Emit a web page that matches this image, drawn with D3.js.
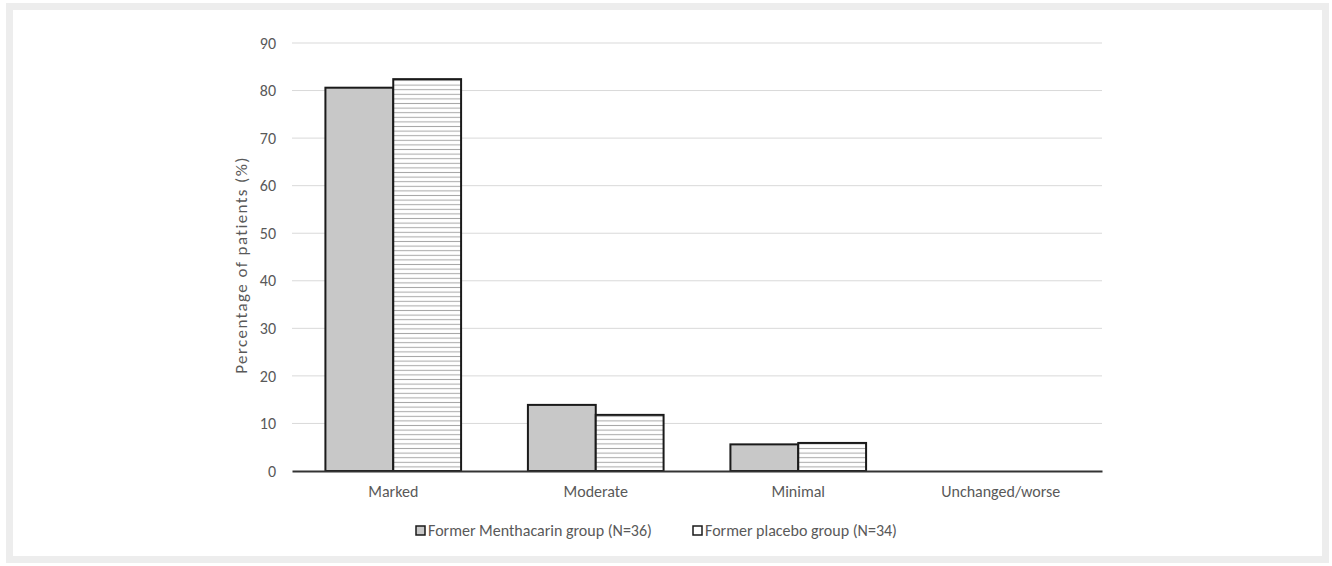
<!DOCTYPE html>
<html><head><meta charset="utf-8">
<script src="https://cdn.jsdelivr.net/npm/d3@7/dist/d3.min.js"></script>
<style>body{margin:0;background:#fff}svg{display:block}text{font-family:Carlito,"Open Sans","Liberation Sans",sans-serif;fill:#595959}</style>
</head><body><svg id="c" width="1332" height="566"></svg>
<script>
const categories = ["Marked", "Moderate", "Minimal", "Unchanged/worse"];
const seriesNames = ["Former Menthacarin group (N=36)", "Former placebo group (N=34)"];
const menthacarin = [80.6, 13.9, 5.6, 0];
const placebo = [82.4, 11.8, 5.9, 0];
const yTicks = [0, 10, 20, 30, 40, 50, 60, 70, 80, 90];
const yTitle = "Percentage of patients (%)";

const svg = d3.select("#c");
svg.append("rect").attr("x", 0).attr("y", 0).attr("width", 1332).attr("height", 566).attr("fill", "#fff");
svg.append("rect").attr("x", 9.5).attr("y", 6.5).attr("width", 1316).attr("height", 553)
  .attr("fill", "none").attr("stroke", "#ededed").attr("stroke-width", 7);

const defs = svg.append("defs");
const pat = defs.append("pattern").attr("id", "hatch").attr("patternUnits", "userSpaceOnUse")
  .attr("width", 8).attr("height", 4.6);
pat.append("rect").attr("width", 8).attr("height", 4.6).attr("fill", "#fff");
pat.append("line").attr("x1", 0).attr("x2", 8).attr("y1", 2.3).attr("y2", 2.3)
  .attr("stroke", "#a8a8a8").attr("stroke-width", 1);

const m = {l: 292, r: 1102, t: 43, b: 471};
const x = d3.scaleBand().domain(categories).range([m.l, m.r]).paddingInner(0.33).paddingOuter(0.165);
const xs = d3.scaleBand().domain([0, 1]).range([0, x.bandwidth()]);
const y = d3.scaleLinear().domain([0, 90]).range([m.b, m.t]);

// gridlines
svg.append("g").selectAll("line").data(yTicks.filter(d => d > 0)).join("line")
  .attr("x1", m.l).attr("x2", m.r).attr("y1", d => y(d)).attr("y2", d => y(d))
  .attr("stroke", "#d9d9d9").attr("stroke-width", 1);

// y axis labels
const yAxis = d3.axisLeft(y).tickValues(yTicks).tickSize(0).tickPadding(16);
const yg = svg.append("g").attr("transform", `translate(${m.l},0)`).call(yAxis);
yg.attr("font-size", null).attr("font-family", null);
yg.select(".domain").remove();
yg.selectAll("text").style("font-size", "16px").attr("fill", "#595959");

// bars
const series = [menthacarin, placebo];
const fills = ["#c8c8c8", "url(#hatch)"];
series.forEach((vals, si) => {
  svg.append("g").selectAll("rect").data(categories.map((c, i) => ({c, v: vals[i]})).filter(d => d.v > 0)).join("rect")
    .attr("x", d => x(d.c) + xs(si)).attr("width", xs.bandwidth())
    .attr("y", d => y(d.v)).attr("height", d => y(0) - y(d.v))
    .attr("fill", fills[si]).attr("stroke", "#1a1a1a").attr("stroke-width", 2);
});

// x axis
const xAxis = d3.axisBottom(x).tickSize(0).tickPadding(15);
const xg = svg.append("g").attr("transform", `translate(0,${m.b})`).call(xAxis);
xg.attr("font-size", null).attr("font-family", null);
xg.select(".domain").attr("stroke", "#333").attr("stroke-width", 2);
xg.selectAll("text").style("font-size", "16px").attr("fill", "#595959");

// y title
svg.append("text").attr("transform", `translate(247,${(m.t + m.b) / 2 + 8}) rotate(-90)`)
  .attr("text-anchor", "middle").style("font-size", "17px").style("letter-spacing", "1.4px").text(yTitle);

// legend
const lg = svg.append("g");
const legX = [416, 693];
seriesNames.forEach((n, i) => {
  lg.append("rect").attr("x", legX[i]).attr("y", 526).attr("width", 9).attr("height", 9)
    .attr("fill", i === 0 ? "#c8c8c8" : "#fff").attr("stroke", "#1a1a1a").attr("stroke-width", 1.5);
  lg.append("text").attr("x", legX[i] + 12).attr("y", 536).style("font-size", "16px").text(n);
});
</script></body></html>
